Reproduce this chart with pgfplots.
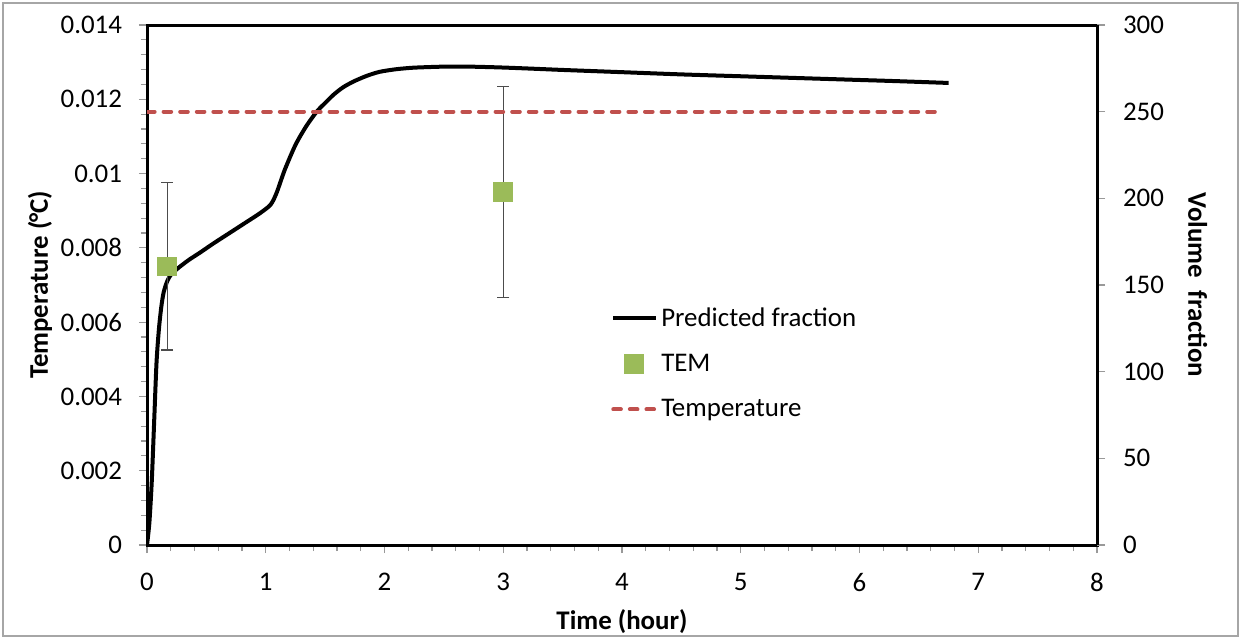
\documentclass[border=0pt]{standalone}
\usepackage{pgfplots}
\pgfplotsset{compat=1.18}
\usepackage{fontspec}
\setmainfont{Carlito}
\definecolor{temgreen}{HTML}{9BBB59}
\definecolor{tempred}{HTML}{C0504D}

\begin{document}
\begin{tikzpicture}
\pgfplotsset{
  base/.style={
    scale only axis, width=475bp, height=260bp,
    xmin=0, xmax=8,
    tick align=outside,
    major tick length=4bp, minor tick length=3bp,
    every tick/.style={gray!80, line width=0.6bp},
    axis line style={black, line width=1.5bp},
    tick label style={font=\fontsize{13.5}{16}\selectfont},
    label style={font=\fontsize{13.5}{16}\selectfont\bfseries},
    /pgf/number format/assume math mode=true,
    scaled y ticks=false, scaled x ticks=false,
  }
}
\begin{axis}[base, name=ax,
  ymin=0, ymax=0.014,
  xtick={0,1,2,3,4,5,6,7,8}, minor x tick num=4,
  ytick={0,0.002,0.004,0.006,0.008,0.01,0.012,0.014},
  yticklabels={0,0.002,0.004,0.006,0.008,0.01,0.012,0.014},
  minor y tick num=4,
  xtick pos=left, ytick pos=left,
  xticklabel style={yshift=-6.5bp},
  yticklabel style={xshift=-5bp},
  xlabel={Time (hour)},
  ylabel={Temperature (\kern-0.05em°C)},
  xlabel style={at={(axis description cs:0.5,-0.148)}, anchor=center},
  ylabel style={at={(axis description cs:-0.1126,0.5)}, anchor=center},
  legend style={at={(axis description cs:0.482,0.473)}, anchor=north west, draw=none, fill=none,
    font=\fontsize{13.5}{16}\selectfont, row sep=8.5bp},
  legend cell align=left,
  legend image code/.code={\draw[mark repeat=2,mark phase=2,#1] plot coordinates {(0bp,0bp)(10.5bp,0bp)(21bp,0bp)};},
]
\addplot[black, line width=2bp, smooth, tension=0.45] coordinates {
(0,0) (0.02,0.0006) (0.04,0.0017) (0.06,0.0033) (0.08,0.0049) (0.10,0.0058)
(0.12,0.0064) (0.14,0.0068) (0.17,0.0071) (0.20,0.00727) (0.26,0.00745)
(0.35,0.00767) (0.45,0.00788) (0.56,0.00812) (0.70,0.00841) (0.84,0.00870)
(0.95,0.00893) (1.04,0.00916) (1.09,0.00947) (1.16,0.0101) (1.25,0.01077)
(1.34,0.01127) (1.43,0.01167) (1.50,0.0119) (1.57,0.01212)
(1.65,0.01232) (1.74,0.01248) (1.85,0.01263) (1.96,0.01274) (2.1,0.01281)
(2.24,0.01285) (2.4,0.01287) (2.52,0.01288) (2.7,0.01288) (2.95,0.01286)
(3.2,0.01283) (3.5,0.01279) (4.0,0.01273) (4.5,0.01267) (5.0,0.01262)
(5.5,0.01257) (6.0,0.01252) (6.3,0.01249) (6.75,0.01244)
};
\addlegendentry{Predicted fraction}
\addplot[only marks, mark=square*, mark size=4.7bp, mark options={fill=temgreen, draw=temgreen},
  error bars/.cd, y dir=both, y explicit,
  error bar style={gray!60!black, line width=0.6bp},
  error mark options={rotate=90, mark size=3bp, gray!60!black, line width=0.6bp}]
coordinates {(0.17,0.0075) +- (0,0.00225) (3,0.0095) +- (0,0.00284)};
\addlegendentry{TEM}
\addlegendimage{tempred, line width=2bp, dash pattern=on 3.8bp off 4.5bp, line cap=round}
\addlegendentry{Temperature}
\end{axis}
\begin{axis}[base,
  ymin=0, ymax=300,
  axis x line=none, axis y line*=right,
  ytick={0,50,100,150,200,250,300},
  yticklabel style={xshift=5.5bp},
  ylabel={Volume\ \ fraction},
  ylabel style={rotate=180, at={(axis description cs:1.106,0.5)}, anchor=center},
]
\addplot[tempred, line width=2bp, dash pattern=on 3.8bp off 4.5bp, line cap=round] coordinates {(0,250) (6.7,250)};
\end{axis}
\draw[gray!70, line width=1bp] ([shift={(-72bp,-45.5bp)}]ax.south west) rectangle ([shift={(70.5bp,11bp)}]ax.north east);
\useasboundingbox ([shift={(-73.5bp,-47bp)}]ax.south west) rectangle ([shift={(71.5bp,12.5bp)}]ax.north east);
\end{tikzpicture}
\end{document}
